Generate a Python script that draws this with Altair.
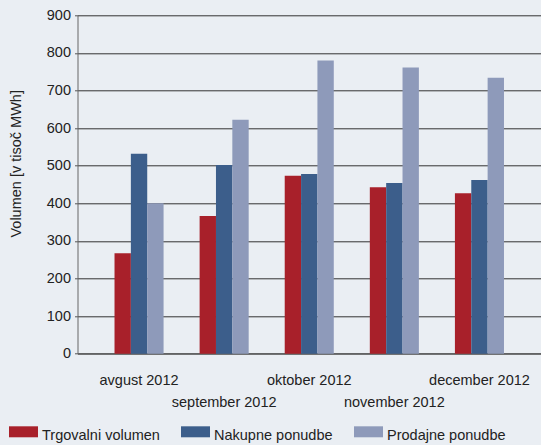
import altair as alt
import pandas as pd

# Monthly volumes, thousand MWh
months = ["avgust 2012", "september 2012", "oktober 2012", "november 2012", "december 2012"]
series = ["Trgovalni volumen", "Nakupne ponudbe", "Prodajne ponudbe"]
trgovalni = [267, 366, 473, 443, 427]
nakupne = [532, 502, 478, 454, 462]
prodajne = [400, 622, 780, 761, 734]
y_ticks = [0, 100, 200, 300, 400, 500, 600, 700, 800, 900]
colors = ["#a8202a", "#3c5e8b", "#8e9aba"]

rows = []
for name, vals in zip(series, [trgovalni, nakupne, prodajne]):
    for m, v in zip(months, vals):
        rows.append({"mesec": m, "serija": name, "volumen": v})
df = pd.DataFrame(rows)

font = "Liberation Sans"

chart = (
    alt.Chart(df)
    .mark_bar()
    .encode(
        x=alt.X(
            "mesec:N",
            sort=months,
            title=None,
            scale=alt.Scale(paddingInner=0.4235, paddingOuter=0.435),
            axis=alt.Axis(
                labelAngle=0,
                ticks=False,
                domainColor="#555555",
                labelPadding=20,
                labelBaseline="top",
                labelLineHeight=22,
                labelExpr="indexof(['september 2012','november 2012'], datum.value) >= 0 ? ['', datum.value] : datum.value",
            ),
        ),
        xOffset=alt.XOffset("serija:N", sort=series, scale=alt.Scale(paddingInner=0)),
        y=alt.Y(
            "volumen:Q",
            scale=alt.Scale(domain=[0, 900], nice=False),
            title="Volumen [v tisoč MWh]",
            axis=alt.Axis(
                values=y_ticks,
                tickSize=3,
                tickColor="#555555",
                domainColor="#666666",
                labelPadding=4,
                titleX=-61,
                titleY=148,
                titleAlign="center",
                titleBaseline="middle",
                titleFontWeight="normal",
                titleFontSize=14.5,
                titleColor="#222222",
            ),
        ),
        color=alt.Color(
            "serija:N",
            sort=series,
            scale=alt.Scale(domain=series, range=colors),
            legend=alt.Legend(
                title=None,
                orient="none",
                direction="horizontal",
                legendX=-68.5,
                legendY=406,
                symbolType="M-1,-0.655L1,-0.655L1,0.103L-1,0.103Z",
                symbolSize=841,
                symbolStrokeWidth=0,
                symbolOpacity=1,
                labelOffset=4,
                columnPadding=21,
                labelFontSize=14.5,
                labelFont=font,
                labelColor="#222222",
                labelLimit=300,
            ),
        ),
    )
    .properties(
        width=463.5,
        height=338.4,
        background="#eaeef3",
        padding={"left": 77.5, "top": 15.3, "right": 0, "bottom": 91.3},
        autosize=alt.AutoSizeParams(type="none"),
    )
    .configure_view(stroke=None)
    .configure_axis(
        labelFont=font,
        titleFont=font,
        labelFontSize=14.5,
        labelColor="#222222",
        gridColor="#333333",
        gridWidth=1,
    )
    .configure_axisY(grid=True)
    .configure_axisX(grid=False)
)

chart.save("out.html", embed_options={"renderer": "svg", "actions": False})
